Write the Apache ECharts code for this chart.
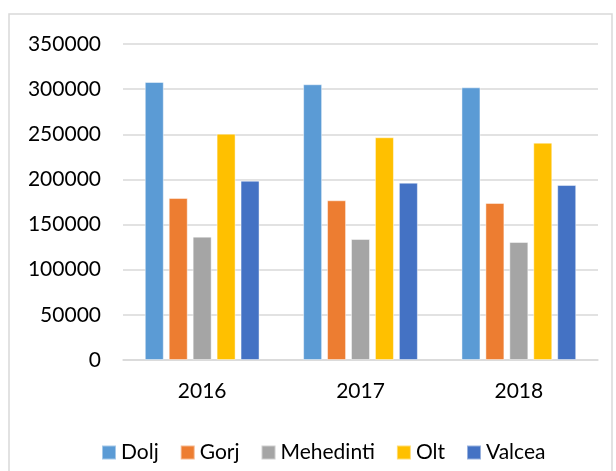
<!DOCTYPE html>
<html>
<head>
<meta charset="utf-8">
<script src="https://cdn.jsdelivr.net/npm/echarts@6/dist/echarts.min.js"></script>
<style>
  html, body { margin: 0; padding: 0; background: #fff; }
  #chart { width: 616px; height: 471px; }
</style>
</head>
<body>
<div id="chart"></div>
<script>
// data
var years = ['2016', '2017', '2018']
var dolj = [307900, 305400, 302000]
var gorj = [179400, 176900, 173900]
var mehedinti = [136600, 134000, 130700]
var olt = [250700, 246700, 240700]
var valcea = [198600, 196400, 193800]

var seriesNames = ['Dolj', 'Gorj', 'Mehedinti', 'Olt', 'Valcea']
var seriesData = [dolj, gorj, mehedinti, olt, valcea]
var colors = ['#5B9BD5', '#ED7D31', '#A5A5A5', '#FFC000', '#4472C4']

var font = 'Lato, "Open Sans", sans-serif'

var chart = echarts.init(document.getElementById('chart'))

chart.setOption({
  animation: false,
  color: colors,
  textStyle: { fontFamily: font },
  graphic: [{
    type: 'rect',
    shape: { x: 9, y: 14, width: 603, height: 470 },
    style: { fill: null, stroke: '#d9d9d9', lineWidth: 1.5 },
    silent: true
  }],
  grid: {
    left: 123,
    right: 18,
    top: 44,
    bottom: 111
  },
  legend: {
    data: seriesNames,
    left: 96,
    top: 437,
    icon: 'rect',
    itemWidth: 14,
    itemHeight: 14,
    itemGap: 21,
    textStyle: { fontSize: 21, color: '#000', fontFamily: font }
  },
  xAxis: {
    type: 'category',
    data: years,
    axisLine: { lineStyle: { color: '#d9d9d9', width: 1.5 } },
    axisTick: { show: false },
    axisLabel: { fontSize: 21, color: '#000', margin: 21 }
  },
  yAxis: {
    type: 'value',
    min: 0,
    max: 350000,
    interval: 50000,
    axisLine: { show: false },
    axisTick: { show: false },
    splitLine: { lineStyle: { color: '#d9d9d9', width: 1.5 } },
    axisLabel: {
      fontSize: 21,
      color: '#000',
      margin: 22,
      formatter: function (v) { return String(v) }
    }
  },
  series: seriesNames.map(function (name, i) {
    return {
      name: name,
      type: 'bar',
      data: seriesData[i],
      barWidth: 19,
      barGap: '26%',
      itemStyle: {
        borderColor: 'rgba(255,255,255,0.45)',
        borderWidth: 1
      }
    }
  })
})
</script>
</body>
</html>
